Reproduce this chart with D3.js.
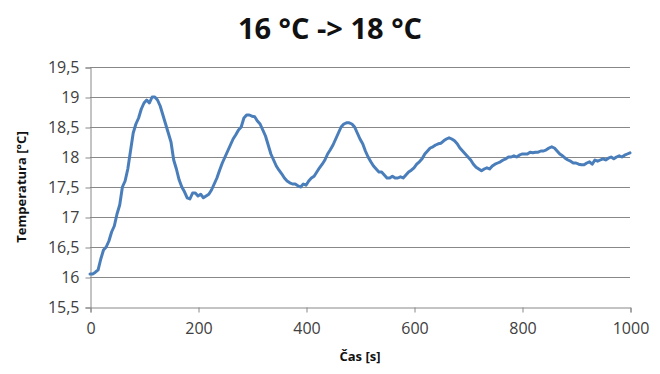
<!DOCTYPE html>
<html>
<head>
<meta charset="utf-8">
<script src="https://cdn.jsdelivr.net/npm/d3@7"></script>
<style>
  body { margin: 0; background: #fff; }
  svg { display: block; font-family: "Open Sans", sans-serif; }
</style>
</head>
<body>
<svg width="660" height="374"></svg>
<script>
// measured temperature, one reading every 5 s from 0 s to 1000 s
const sampleStep = 5;
const temps = [
  16.05, 16.05, 16.08, 16.12, 16.30, 16.45, 16.50, 16.60, 16.75, 16.85,
  17.05, 17.20, 17.50, 17.60, 17.80, 18.10, 18.40, 18.55, 18.65, 18.80,
  18.90, 18.95, 18.90, 19.00, 19.00, 18.95, 18.85, 18.70, 18.55, 18.40,
  18.25, 17.95, 17.80, 17.62, 17.50, 17.42, 17.32, 17.30, 17.40, 17.40,
  17.35, 17.38, 17.32, 17.35, 17.38, 17.45, 17.55, 17.65, 17.78, 17.90,
  18.00, 18.10, 18.20, 18.30, 18.37, 18.45, 18.50, 18.65, 18.70, 18.70,
  18.68, 18.67, 18.60, 18.55, 18.45, 18.35, 18.20, 18.05, 17.95, 17.85,
  17.78, 17.72, 17.65, 17.60, 17.57, 17.55, 17.55, 17.52, 17.50, 17.55,
  17.53, 17.60, 17.65, 17.68, 17.75, 17.82, 17.88, 17.95, 18.05, 18.12,
  18.20, 18.30, 18.40, 18.50, 18.55, 18.57, 18.57, 18.55, 18.50, 18.40,
  18.30, 18.22, 18.10, 18.00, 17.92, 17.85, 17.80, 17.75, 17.75, 17.70,
  17.65, 17.65, 17.68, 17.65, 17.65, 17.67, 17.65, 17.70, 17.75, 17.78,
  17.82, 17.88, 17.92, 17.97, 18.05, 18.10, 18.15, 18.17, 18.20, 18.22,
  18.23, 18.27, 18.30, 18.32, 18.30, 18.27, 18.22, 18.15, 18.10, 18.05,
  18.00, 17.95, 17.88, 17.83, 17.80, 17.77, 17.80, 17.82, 17.80, 17.85,
  17.88, 17.90, 17.92, 17.95, 17.97, 18.00, 18.00, 18.02, 18.00, 18.03,
  18.05, 18.05, 18.05, 18.08, 18.07, 18.08, 18.08, 18.10, 18.10, 18.12,
  18.15, 18.17, 18.15, 18.10, 18.05, 18.02, 17.98, 17.95, 17.93, 17.90,
  17.90, 17.88, 17.87, 17.87, 17.90, 17.92, 17.88, 17.95, 17.93, 17.95,
  17.97, 17.95, 17.98, 18.00, 17.97, 18.00, 18.02, 18.00, 18.03, 18.05,
  18.07
];

const xTicks = [0, 200, 400, 600, 800, 1000];
const yTicks = [15.5, 16, 16.5, 17, 17.5, 18, 18.5, 19, 19.5];

const title = '16 °C -> 18 °C';
const xLabel = 'Čas [s]';
const yLabel = 'Temperatura [°C]';

const data = temps.map((v, i) => ({t: i * sampleStep, v}));

const svg = d3.select('svg');
const margin = {top: 67, right: 30, bottom: 67, left: 90};
const width = +svg.attr('width') - margin.left - margin.right;
const height = +svg.attr('height') - margin.top - margin.bottom;
const g = svg.append('g').attr('transform', `translate(${margin.left},${margin.top})`);

const x = d3.scaleLinear().domain([0, 1000]).range([0, width]);
const y = d3.scaleLinear().domain([15.5, 19.5]).range([height, 0]);

const gridColor = '#888';
const fmt = d => String(d).replace('.', ',');

// horizontal gridlines
g.append('g')
  .selectAll('line')
  .data(yTicks.slice(1))
  .enter().append('line')
    .attr('x1', 0)
    .attr('x2', width)
    .attr('y1', d => y(d) + 0.5)
    .attr('y2', d => y(d) + 0.5)
    .attr('stroke', gridColor)
    .attr('stroke-width', 1);

const yAxis = g.append('g')
  .attr('class', 'axis axis--y')
  .attr('transform', 'translate(0.5,0.5)')
  .call(d3.axisLeft(y).tickValues(yTicks).tickFormat(fmt).tickSize(5).tickPadding(6));

const xAxis = g.append('g')
  .attr('class', 'axis axis--x')
  .attr('transform', `translate(0.5,${height + 0.5})`)
  .call(d3.axisBottom(x).tickValues(xTicks).tickFormat(d3.format('d')).tickSize(5).tickPadding(10));

[xAxis, yAxis].forEach(a => {
  a.select('.domain').attr('stroke', gridColor);
  a.selectAll('.tick line').attr('stroke', gridColor);
  a.selectAll('.tick text')
    .attr('fill', '#404040')
    .style('font-family', '"Open Sans", sans-serif')
    .style('font-size', '16px');
});

g.append('path')
  .datum(data)
  .attr('fill', 'none')
  .attr('stroke', '#4a7ebb')
  .attr('stroke-width', 3)
  .attr('stroke-linejoin', 'round')
  .attr('stroke-linecap', 'round')
  .attr('d', d3.line().x(d => x(d.t)).y(d => y(d.v)));

svg.append('text')
  .attr('x', 330)
  .attr('y', 39)
  .attr('text-anchor', 'middle')
  .attr('font-weight', 'bold')
  .attr('font-size', 29)
  .attr('fill', '#111')
  .text(title);

svg.append('text')
  .attr('x', margin.left + width / 2)
  .attr('y', 361)
  .attr('text-anchor', 'middle')
  .attr('font-weight', 'bold')
  .attr('font-size', 13)
  .attr('fill', '#111')
  .text(xLabel);

svg.append('text')
  .attr('transform', `translate(26,${margin.top + height / 2}) rotate(-90)`)
  .attr('text-anchor', 'middle')
  .attr('font-weight', 'bold')
  .attr('font-size', 13)
  .attr('fill', '#111')
  .text(yLabel);
</script>
</body>
</html>
